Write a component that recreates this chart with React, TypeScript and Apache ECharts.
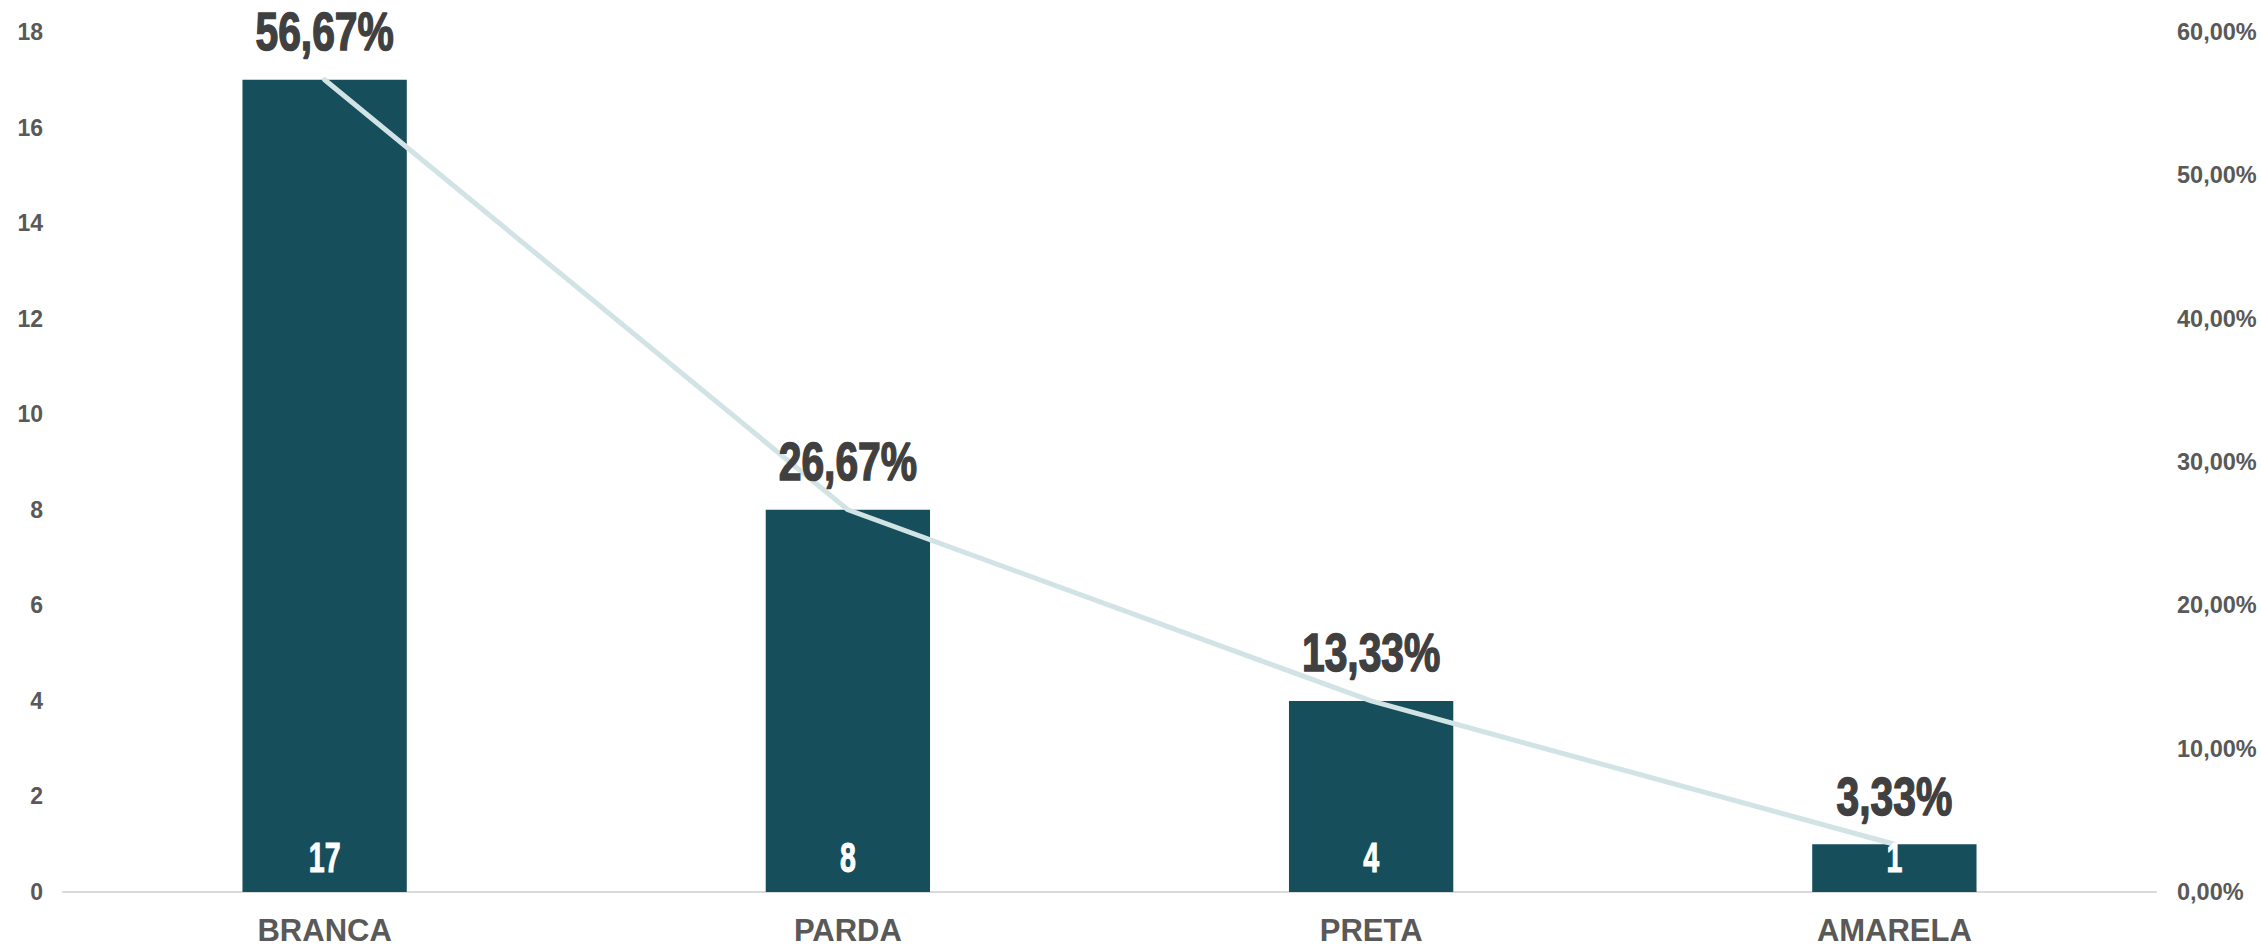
import React, { useEffect, useRef } from "react";
import * as echarts from "echarts";

const categories = ["BRANCA", "PARDA", "PRETA", "AMARELA"];
const counts = [17, 8, 4, 1];
const percents = [56.67, 26.67, 13.33, 3.33];

const fmtPct = (v: number) => v.toFixed(2).replace(".", ",") + "%";
const baseFont = "'Liberation Sans', Arial, sans-serif";

export default function App() {
  const ref = useRef<HTMLDivElement>(null);
  useEffect(() => {
    if (!ref.current) return;
    const chart = echarts.init(ref.current, undefined, { renderer: "svg" });
    chart.setOption({
      animation: false,
      backgroundColor: "#ffffff",
      grid: { left: 63, right: 105, top: 32, bottom: 55, containLabel: false },
      xAxis: {
        type: "category",
        data: categories,
        axisTick: { show: false },
        axisLine: { lineStyle: { color: "#D9D9D9", width: 2 } },
        axisLabel: {
          color: "#595959",
          fontSize: 31,
          lineHeight: 28,
          fontWeight: "bold",
          fontFamily: baseFont,
          margin: 24,
        },
      },
      yAxis: [
        {
          type: "value",
          min: 0,
          max: 18,
          interval: 2,
          splitLine: { show: false },
          axisLine: { show: false },
          axisTick: { show: false },
          axisLabel: {
            color: "#595959",
            fontSize: 23,
            fontWeight: "bold",
            fontFamily: baseFont,
            margin: 20,
          },
        },
        {
          type: "value",
          min: 0,
          max: 60,
          interval: 10,
          position: "right",
          splitLine: { show: false },
          axisLine: { show: false },
          axisTick: { show: false },
          axisLabel: {
            color: "#595959",
            fontSize: 23.5,
            fontWeight: "bold",
            fontFamily: baseFont,
            margin: 21,
            formatter: (v: number) => fmtPct(v),
          },
        },
      ],
      series: [
        {
          type: "bar",
          data: counts,
          yAxisIndex: 0,
          barWidth: "31.4%",
          itemStyle: { color: "#164E5C" },
        },
        {
          type: "line",
          data: percents,
          yAxisIndex: 1,
          symbol: "none",
          lineStyle: { color: "#D1E3E5", width: 5, cap: "round" },
        },
        {
          type: "custom",
          yAxisIndex: 0,
          z: 10,
          silent: true,
          data: counts.map((v, i) => [i, v]),
          renderItem: (_params: any, api: any) => {
            const p = api.coord([api.value(0), 0]);
            return {
              type: "text",
              x: p[0],
              y: p[1] - 35,
              scaleX: 0.68,
              style: {
                text: String(api.value(1)),
                fill: "#ffffff",
                stroke: "#ffffff",
                lineWidth: 1,
                font: "bold 42px " + baseFont,
                align: "center",
                verticalAlign: "middle",
              },
            };
          },
        },
        {
          type: "custom",
          yAxisIndex: 1,
          z: 10,
          silent: true,
          data: percents.map((v, i) => [i, v]),
          renderItem: (_params: any, api: any) => {
            const p = api.coord([api.value(0), api.value(1)]);
            return {
              type: "text",
              x: p[0],
              y: p[1] - 48,
              scaleX: 0.77,
              style: {
                text: fmtPct(api.value(1)),
                fill: "#404040",
                stroke: "#404040",
                lineWidth: 1.5,
                font: "bold 53px " + baseFont,
                align: "center",
                verticalAlign: "middle",
              },
            };
          },
        },
      ],
    });
    return () => chart.dispose();
  }, []);
  return (
    <div
      ref={ref}
      style={{ position: "absolute", left: 0, top: 0, width: 2261, height: 947 }}
    />
  );
}
